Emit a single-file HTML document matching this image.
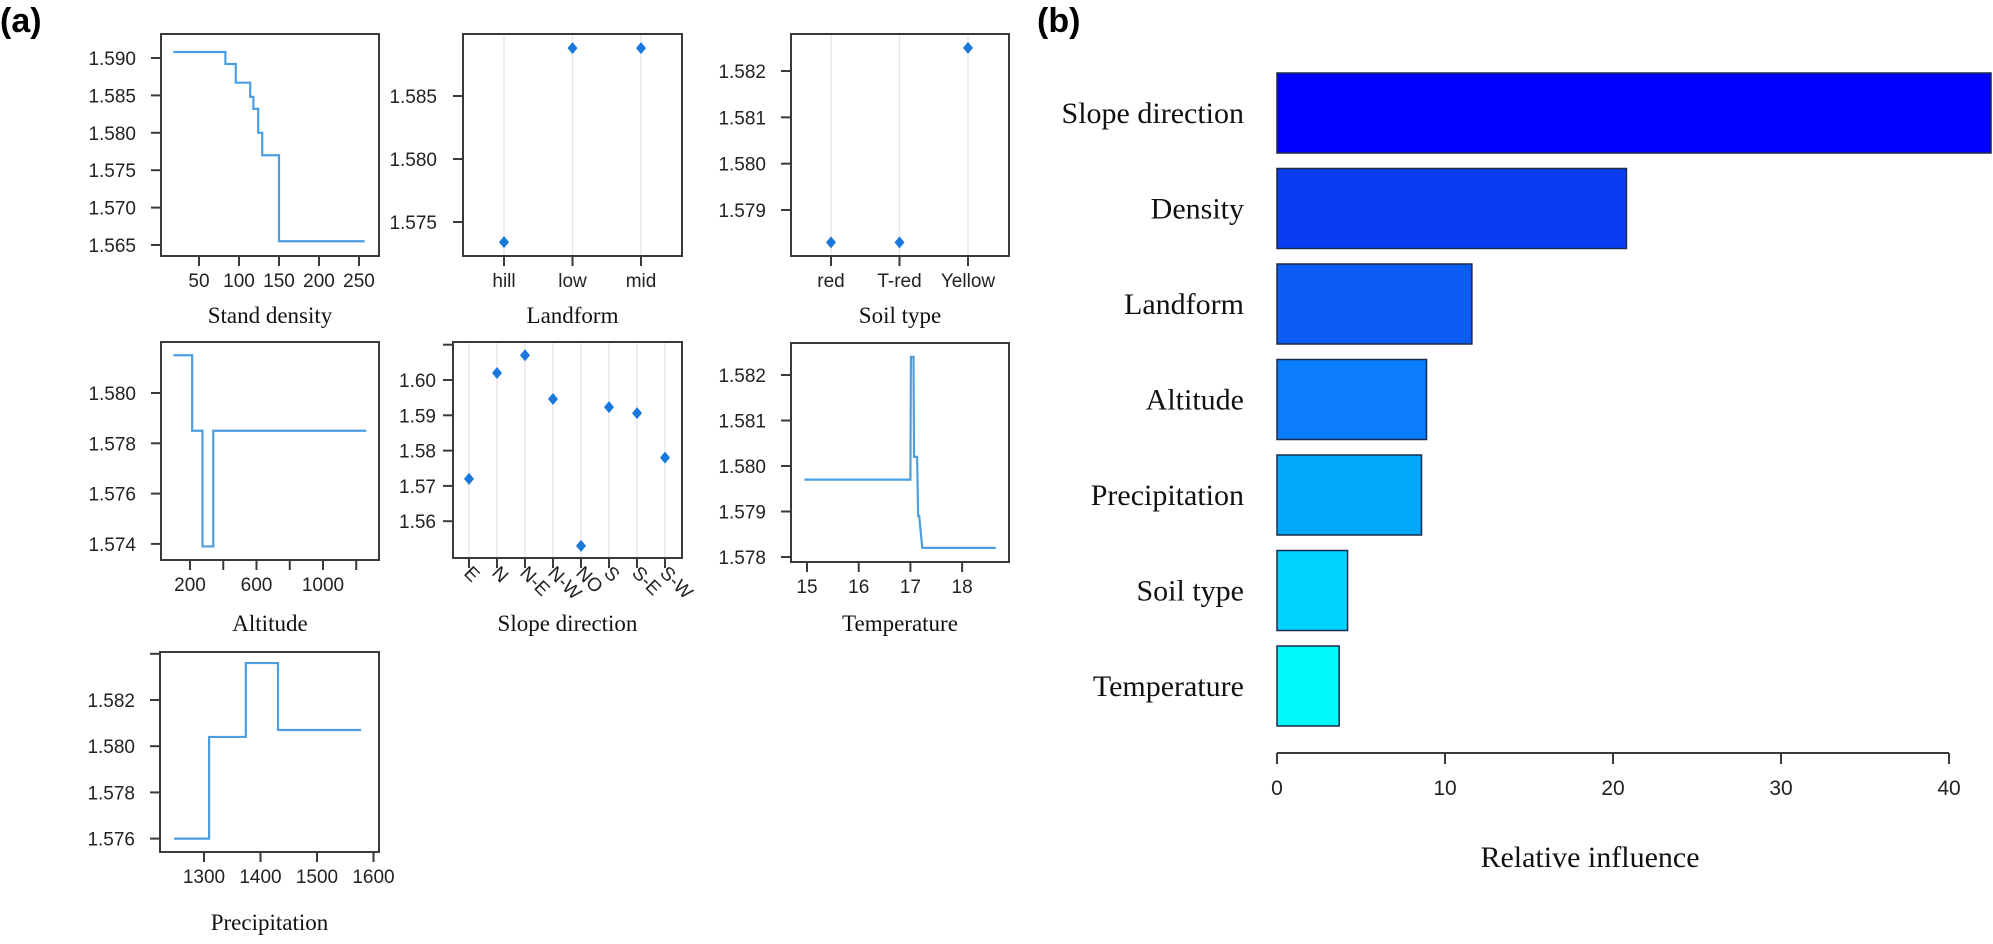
<!DOCTYPE html>
<html><head><meta charset="utf-8">
<style>
html,body{margin:0;padding:0;background:#fff;}
svg{display:block;}
.tk{font-family:"Liberation Sans",sans-serif;font-size:19px;fill:#222;}
.tt{font-family:"Liberation Serif",serif;font-size:23px;fill:#111;}
</style></head>
<body>
<svg id="fig" width="1993" height="944" viewBox="0 0 1993 944" xmlns="http://www.w3.org/2000/svg">
<rect width="1993" height="944" fill="#fff"/>
<text x="0" y="32" font-family="Liberation Sans, sans-serif" font-weight="bold" font-size="34">(a)</text>
<text x="1037" y="32" font-family="Liberation Sans, sans-serif" font-weight="bold" font-size="34">(b)</text>
</svg>
<script>
// ---- data (panel a) ----
const densityBreaks = [18, 83, 96, 114, 118, 124, 129, 150, 257];
const densityLevels = [1.5908, 1.5892, 1.5867, 1.5848, 1.5832, 1.5800, 1.5770, 1.5655];
const landformCats = ["hill", "low", "mid"];
const landformVals = [1.5734, 1.5888, 1.5888];
const soilCats = ["red", "T-red", "Yellow"];
const soilVals = [1.5783, 1.5783, 1.5825];
const altitudeBreaks = [100, 213, 275, 340, 1260];
const altitudeLevels = [1.5815, 1.5785, 1.5739, 1.5785];
const slopeCats = ["E", "N", "N-E", "N-W", "NO", "S", "S-E", "S-W"];
const slopeVals = [1.572, 1.602, 1.607, 1.5946, 1.553, 1.5923, 1.5906, 1.578];
const tempX = [14.95, 17.0, 17.01, 17.06, 17.07, 17.13, 17.15, 17.17, 17.23, 18.65];
const tempY = [1.5797, 1.5797, 1.5824, 1.5824, 1.5802, 1.5802, 1.5789, 1.5789, 1.5782, 1.5782];
const precipBreaks = [1247, 1309, 1374, 1431, 1578];
const precipLevels = [1.5760, 1.5804, 1.5836, 1.5807];
// tick labels
const densityTicks = [50, 100, 150, 200, 250];
const densityYTicks = [1.590, 1.585, 1.580, 1.575, 1.570, 1.565];
const landformYTicks = [1.585, 1.580, 1.575];
const soilYTicks = [1.582, 1.581, 1.580, 1.579];
const altitudeTicks = [200, 400, 600, 800, 1000, 1200];
const altitudeYTicks = [1.580, 1.578, 1.576, 1.574];
const slopeYTicks = [1.61, 1.60, 1.59, 1.58, 1.57, 1.56];
const tempTicks = [15, 16, 17, 18];
const tempYTicks = [1.582, 1.581, 1.580, 1.579, 1.578];
const precipTicks = [1300, 1400, 1500, 1600];
const precipYTicks = [1.584, 1.582, 1.580, 1.578, 1.576];
// ---- data (panel b) ----
const infVars = ["Slope direction", "Density", "Landform", "Altitude", "Precipitation", "Soil type", "Temperature"];
const infVals = [42.5, 20.8, 11.6, 8.9, 8.6, 4.2, 3.7];
const infColors = ["#0000ff", "#0a3cf2", "#0a5cf5", "#0a7cfc", "#00a8fa", "#00d2fc", "#00fafa"];
const infTicks = [0, 10, 20, 30, 40];

const NS = "http://www.w3.org/2000/svg";
const svg = document.getElementById("fig");
function el(tag, attrs, parent, text) {
  const e = document.createElementNS(NS, tag);
  for (const k in attrs) e.setAttribute(k, attrs[k]);
  if (text !== undefined) e.textContent = text;
  (parent || svg).appendChild(e);
  return e;
}
const LINE = "#4c9ee0", PT = "#1a78dc", AX = "#3a3a3a";

function panel(p) {
  const g = el("g", {});
  
  
  const b = p.box;
  if (p.cats) {
    p.cats.forEach((c, i) => {
      const x = p.cx(i);
      const gl = el("line", {x1: x, x2: x, y1: b.t, y2: b.b, stroke: "#e2e2e2", "stroke-width": 1.2}, g);
      
      
    });
  }
  const box = el("rect", {x: b.l, y: b.t, width: b.r - b.l, height: b.b - b.t, fill: "none", stroke: AX, "stroke-width": 2}, g);
  
  
  p.yTicks.forEach(v => {
    const y = p.sy(v);
    const tl = el("line", {x1: b.l - 10, x2: b.l, y1: y, y2: y, stroke: AX, "stroke-width": 2}, g);
    
    
    if (p.yLabelSkip && p.yLabelSkip(v)) return;
    const t = el("text", {x: b.l - p.ygap, y: y + 7, "text-anchor": "end", class: "tk"}, g, v.toFixed(p.ydec));
    
    
  });
  if (p.cats) {
    p.cats.forEach((c, i) => {
      const x = p.cx(i);
      const tl = el("line", {x1: x, x2: x, y1: b.b, y2: b.b + 10, stroke: AX, "stroke-width": 2}, g);
      
      
      let t;
      if (p.rot) {
        t = el("text", {x: x - 6, y: b.b + 16, transform: `rotate(45 ${x - 6} ${b.b + 16})`, class: "tk"}, g, c);
      } else {
        t = el("text", {x: x, y: b.b + 31, "text-anchor": "middle", class: "tk"}, g, c);
      }
      
      
    });
    p.vals.forEach((v, i) => {
      const x = p.cx(i), y = p.sy(v);
      const d = el("path", {d: `M${x} ${y - 6}L${x + 5} ${y}L${x} ${y + 6}L${x - 5} ${y}Z`, fill: PT}, g);
      
      
    });
  } else {
    p.xTicks.forEach(v => {
      const x = p.sx(v);
      const tl = el("line", {x1: x, x2: x, y1: b.b, y2: b.b + 10, stroke: AX, "stroke-width": 2}, g);
      
      
      if (p.xLabelSkip && p.xLabelSkip(v)) return;
      const t = el("text", {x: x, y: b.b + 31, "text-anchor": "middle", class: "tk"}, g, String(v));
      
      
    });
    let pts = [];
    if (p.breaks) {
      for (let i = 0; i < p.levels.length; i++) {
        pts.push([p.sx(p.breaks[i]), p.sy(p.levels[i])]);
        pts.push([p.sx(p.breaks[i + 1]), p.sy(p.levels[i])]);
      }
    } else {
      pts = p.xs.map((v, i) => [p.sx(v), p.sy(p.ys[i])]);
    }
    const pl = el("polyline", {points: pts.map(q => q.join(",")).join(" "), fill: "none", stroke: LINE, "stroke-width": 2.2}, g);
    
    
  }
  const tt = el("text", {x: (b.l + b.r) / 2, y: p.titleY, "text-anchor": "middle", class: "tt"}, g, p.title);
  
  
}

panel({name: "stand-density-panel", box: {l: 161, r: 379, t: 34, b: 256},
  sx: v => 159 + v * 0.8, sy: v => 58 + (1.590 - v) * 7480,
  xTicks: densityTicks, yTicks: densityYTicks, ydec: 3, ygap: 25,
  breaks: densityBreaks, levels: densityLevels, title: "Stand density", titleY: 323});
panel({name: "landform-panel", box: {l: 463, r: 682, t: 34, b: 256},
  cx: i => 504 + i * 68.5, sy: v => 96 + (1.585 - v) * 12600,
  cats: landformCats, vals: landformVals, yTicks: landformYTicks, ydec: 3, ygap: 26,
  title: "Landform", titleY: 323});
panel({name: "soil-type-panel", box: {l: 791, r: 1009, t: 34, b: 256},
  cx: i => 831 + i * 68.5, sy: v => 71 + (1.582 - v) * 46333,
  cats: soilCats, vals: soilVals, yTicks: soilYTicks, ydec: 3, ygap: 25,
  title: "Soil type", titleY: 323});
panel({name: "altitude-panel", box: {l: 161, r: 379, t: 342, b: 560},
  sx: v => 190 + (v - 200) * 66.5 / 400, sy: v => 393 + (1.580 - v) * 25150,
  xTicks: altitudeTicks, xLabelSkip: v => [400, 800, 1200].includes(v),
  yTicks: altitudeYTicks, ydec: 3, ygap: 25,
  breaks: altitudeBreaks, levels: altitudeLevels, title: "Altitude", titleY: 631});
panel({name: "slope-direction-panel", box: {l: 453, r: 682, t: 342, b: 558},
  cx: i => 469 + i * 28, sy: v => 380 + (1.60 - v) * 3530, rot: true,
  cats: slopeCats, vals: slopeVals, yTicks: slopeYTicks, yLabelSkip: v => v > 1.605, ydec: 2, ygap: 17,
  title: "Slope direction", titleY: 631});
panel({name: "temperature-panel", box: {l: 791, r: 1009, t: 343, b: 562},
  sx: v => 807 + (v - 15) * 51.7, sy: v => 375 + (1.582 - v) * 45500,
  xTicks: tempTicks, yTicks: tempYTicks, ydec: 3, ygap: 25,
  xs: tempX, ys: tempY, title: "Temperature", titleY: 631});
panel({name: "precipitation-panel", box: {l: 160, r: 379, t: 652, b: 852},
  sx: v => 204 + (v - 1300) * 0.565, sy: v => 700 + (1.582 - v) * 23100,
  xTicks: precipTicks, yTicks: precipYTicks, yLabelSkip: v => v > 1.583, ydec: 3, ygap: 25,
  breaks: precipBreaks, levels: precipLevels, title: "Precipitation", titleY: 930});

// ---- panel b ----
const bx = v => 1277 + v * 16.8;
const gb = el("g", {});


infVars.forEach((name, i) => {
  const top = 73 + i * 95.5;
  const r = el("rect", {x: bx(0), y: top, width: bx(infVals[i]) - bx(0), height: 80, fill: infColors[i], stroke: "#1a2a4a", "stroke-width": 1.5}, gb);
  
  
  const t = el("text", {x: 1244, y: top + 50, "text-anchor": "end", "font-family": "Liberation Serif, serif", "font-size": 30, fill: "#111"}, gb, name);
  
  
});
const ax = el("line", {x1: bx(0), x2: bx(40), y1: 753, y2: 753, stroke: AX, "stroke-width": 2}, gb);


infTicks.forEach(v => {
  const tl = el("line", {x1: bx(v), x2: bx(v), y1: 753, y2: 764, stroke: AX, "stroke-width": 2}, gb);
  
  
  const t = el("text", {x: bx(v), y: 795, "text-anchor": "middle", "font-family": "Liberation Sans, sans-serif", "font-size": 21, fill: "#222"}, gb, String(v));
  
  
});
const xt = el("text", {x: 1590, y: 867, "text-anchor": "middle", "font-family": "Liberation Serif, serif", "font-size": 30, fill: "#111"}, gb, "Relative influence");


</script>
</body></html>
